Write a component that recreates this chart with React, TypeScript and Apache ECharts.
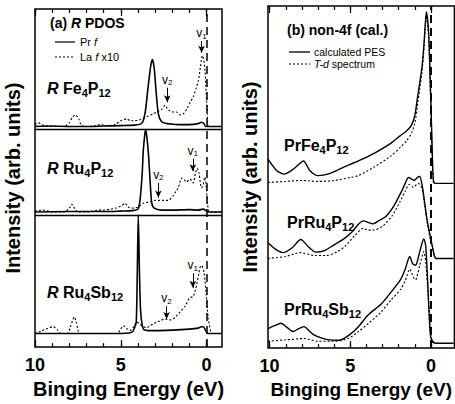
import React, { useEffect, useRef } from "react";
import * as echarts from "echarts";

const FONT = "'Liberation Sans', Arial, Helvetica, sans-serif";

// binding-energy ticks (eV)
const energyTicks = [0, 1, 2, 3, 4, 5, 6, 7, 8, 9, 10];
const energyMajor = [0, 5, 10];

// ---------- (a) R PDOS : [energy (eV), intensity above subplot baseline] ----------
const fePrF: number[][] = [[10, 0], [9, 0.5], [8, 0], [7, 0], [6, 0.5], [5, 1], [4.2, 1.5], [3.85, 2.5], [3.69, 6], [3.55, 18], [3.4, 42], [3.25, 63], [3.16, 69], [3.05, 60], [2.95, 38], [2.81, 13], [2.62, 5], [2.3, 3], [2.0, 2.5], [1.5, 2], [1.0, 2], [0.5, 3], [0.29, 4.5], [0.15, 3], [0.05, 0], [-0.9, 0]];
const feLaF: number[][] = [[10, 2], [9.8, 4], [9.6, 2], [9.4, 1], [9.0, 0], [8.3, 0], [8.0, 4], [7.8, 10], [7.65, 12], [7.45, 8], [7.3, 1], [7.0, 0], [6.5, 1], [6.2, 2], [5.8, 1], [5.34, 2], [5.0, 6], [4.66, 8], [4.45, 6], [4.27, 6], [3.88, 7], [3.5, 10], [3.11, 13], [2.9, 15], [2.6, 18], [2.42, 22], [2.3, 19], [2.13, 16], [1.95, 15], [1.75, 15], [1.55, 12], [1.36, 13], [1.16, 18], [0.95, 25], [0.77, 31], [0.6, 40], [0.48, 47], [0.35, 62], [0.25, 73], [0.18, 70], [0.09, 57], [0.0, 27], [-0.05, 10], [-0.1, 0], [-0.9, 0]];
const ruPrF: number[][] = [[10, 0], [8, 0.5], [6, 0.5], [5, 1], [4.3, 1.5], [4.0, 3], [3.88, 12], [3.75, 40], [3.69, 63], [3.6, 80], [3.55, 85], [3.5, 80], [3.4, 63], [3.3, 35], [3.2, 10], [3.05, 4], [2.6, 2], [2.0, 2], [1.0, 2.5], [0.5, 2], [0.2, 3], [0.0, 1], [-0.1, 0], [-0.9, 0]];
const ruLaF: number[][] = [[10, 1], [9.5, 2], [9.0, 0], [8.3, 0], [8.0, 4], [7.86, 8], [7.7, 4], [7.5, 0], [7.0, 0], [6.6, 1], [6.3, 2], [6.0, 2], [5.6, 3], [5.3, 4], [5.0, 6], [4.75, 9], [4.55, 5], [4.3, 4], [4.0, 5], [3.7, 9], [3.45, 10], [3.2, 11], [3.0, 12], [2.8, 12], [2.5, 12], [2.23, 12], [1.94, 17], [1.8, 21], [1.65, 25], [1.45, 35], [1.3, 33], [1.16, 31], [0.97, 34], [0.78, 30], [0.65, 40], [0.55, 45], [0.44, 40], [0.3, 25], [0.2, 28], [0.1, 36], [0.03, 28], [-0.05, 10], [-0.12, 1], [-0.2, 0], [-0.9, 0]];
const sbPrF: number[][] = [[10, 0], [5, 0], [4.5, 0.5], [4.3, 2], [4.2, 6], [4.1, 11], [4.04, 60], [3.98, 122], [3.92, 70], [3.85, 25], [3.75, 8], [3.65, 4], [3.4, 3], [3.0, 3], [2.0, 3.5], [1.0, 4.5], [0.5, 5.5], [0.3, 7], [0.19, 7], [0.05, 3], [-0.05, 0], [-0.9, 0]];
const sbLaF: number[][] = [[10, 0], [9.8, 1], [9.6, 3], [9.3, 5], [8.95, 7], [8.7, 4], [8.5, 0], [8.1, 0], [7.95, 6], [7.8, 14], [7.71, 17], [7.6, 12], [7.5, 4], [7.4, 0], [5.2, 0], [5.05, 3], [4.85, 8], [4.65, 5], [4.46, 3], [4.25, 7], [4.07, 12], [3.9, 10], [3.78, 8], [3.49, 6], [3.3, 8], [3.1, 10], [2.9, 12], [2.72, 13], [2.42, 15], [2.13, 14], [1.94, 15], [1.75, 18], [1.55, 22], [1.26, 28], [0.97, 37], [0.78, 38], [0.58, 50], [0.45, 62], [0.38, 68], [0.29, 70], [0.15, 63], [0.03, 42], [-0.1, 15], [-0.24, 2], [-0.3, 0], [-0.9, 0]];

// subplot baselines and separators (arb. units)
const pdosBase = { fe: 227, ru: 139, sb: 14 };
const pdosSeparators = [224, 136];

// v1 / v2 arrows: [index, energy, start, end] (above the subplot baseline)
const feArrows: [string, number, number, number][] = [["1", 0.29, 88, 76], ["2", 2.29, 40, 25]];
const ruArrows: [string, number, number, number][] = [["1", 0.8, 55, 42], ["2", 2.81, 30, 15]];
const sbArrows: [string, number, number, number][] = [["1", 0.8, 62, 47], ["2", 2.33, 28, 15]];

// ---------- (b) non-4f (cal.) : [energy (eV), intensity above offset] ----------
const feCalc: number[][] = [[10.1, 25], [9.55, 13], [9.1, 9.5], [8.5, 15], [7.9, 23], [7.5, 13], [7.0, 8], [6.3, 10], [5.5, 16], [4.5, 23], [3.5, 31], [2.5, 41], [1.9, 49], [1.5, 54], [1.2, 60], [1.0, 70], [0.84, 88], [0.7, 103], [0.55, 121], [0.45, 140], [0.37, 160], [0.29, 176], [0.15, 155], [0.05, 105], [-0.03, 60], [-0.1, 18], [-0.15, 3], [-0.25, 0], [-1.4, 0]];
const feTd: number[][] = [[10.1, 1], [9, 2], [8, 3], [7, 2], [6, 3], [5, 6], [4.5, 8], [3.5, 17], [2.5, 28], [1.9, 37], [1.5, 44], [1.2, 52], [1.0, 62], [0.84, 80], [0.7, 97], [0.55, 116], [0.45, 136], [0.37, 156], [0.29, 172], [0.15, 150], [0.05, 100], [-0.03, 55], [-0.1, 15], [-0.15, 0]];
const ruCalc: number[][] = [[10.1, 16], [9.6, 9], [9.15, 6], [8.6, 11], [8.07, 19.5], [7.6, 12], [7.15, 6.5], [6.6, 8], [6.0, 14], [5.4, 20], [4.9, 27], [4.5, 35], [4.2, 38.5], [3.9, 37], [3.6, 35.5], [3.2, 39], [2.8, 43], [2.3, 54], [1.85, 68], [1.6, 77], [1.4, 83], [1.25, 82], [1.05, 80], [0.85, 83], [0.7, 84], [0.55, 75], [0.4, 58], [0.25, 40], [0.1, 27], [0.0, 19], [-0.1, 11], [-0.2, 3], [-0.3, 0], [-1.4, 0]];
const ruTd: number[][] = [[10.1, 0], [9.0, 2], [8.1, 6], [7.2, 3], [6.5, 3], [5.8, 7], [5.3, 13], [4.7, 24], [4.2, 31], [3.9, 29], [3.6, 29], [3.0, 33], [2.4, 44], [1.9, 59], [1.6, 69], [1.35, 76], [1.1, 73], [0.8, 77], [0.55, 72], [0.4, 55], [0.2, 33], [0.05, 20], [-0.07, 13], [-0.2, 3], [-0.3, 0]];
const sbCalc: number[][] = [[10.1, 15], [9.7, 18], [9.3, 20.5], [8.9, 16], [8.55, 12], [8.2, 15], [7.87, 17], [7.5, 12], [7.2, 8], [6.5, 4], [5.7, 3], [5.1, 8], [4.5, 17], [3.9, 29], [3.1, 40], [2.5, 52], [1.9, 65], [1.6, 76], [1.32, 89], [1.15, 82], [0.96, 80], [0.7, 94], [0.45, 107], [0.33, 100], [0.22, 67], [0.12, 32], [0.03, 7], [-0.1, 2], [-0.3, 0], [-1.4, 0]];
const sbTd: number[][] = [[10.1, 2], [9, 3.5], [8.2, 4.5], [7.9, 5], [7, 2], [6, 2], [5.1, 5], [4.5, 12], [3.9, 20], [3.1, 32], [2.5, 44], [1.9, 55], [1.6, 64], [1.32, 76], [1.1, 68], [0.96, 65], [0.7, 80], [0.45, 94], [0.33, 84], [0.22, 60], [0.12, 30], [0.03, 10], [-0.1, 1], [-0.2, 0]];
const nonFOffset = { fe: 169, ru: 92, sb: 5 };

const shift = (pts: number[][], off: number) => pts.map(([e, v]) => [e, v + off]);

const bold = (size: number) => ({ fontSize: size, fontWeight: "bold" as const, fontFamily: FONT, color: "#000" });

function xAxesFor(gridIndex: number, min: number, max: number, nameSize: number) {
  const base = {
    type: "value" as const, gridIndex, min, max, inverse: true,
    splitLine: { show: false }, axisLine: { show: false },
  };
  const tick = (len: number, vals: number[]) => ({ show: true, inside: true, length: len, customValues: vals, lineStyle: { color: "#000", width: 1.2 } });
  return [
    {
      ...base, position: "bottom", axisTick: tick(4, energyTicks),
      axisLabel: { show: true, customValues: energyMajor, margin: 9, ...bold(18), showMinLabel: true, showMaxLabel: true },
      name: "Binging Energy (eV)", nameLocation: "middle", nameGap: 23, nameTextStyle: bold(nameSize),
    },
    { ...base, position: "bottom", axisTick: tick(7, energyMajor), axisLabel: { show: false } },
    { ...base, position: "top", axisTick: tick(4, energyTicks), axisLabel: { show: false } },
    { ...base, position: "top", axisTick: tick(7, energyMajor), axisLabel: { show: false } },
  ];
}

const solid = (w: number) => ({ color: "#000", width: w, type: "solid" as const });
const dotted = { color: "#000", width: 1.1, type: [2, 2] as number[] };

function arrowMark(arrows: [string, number, number, number][], base: number) {
  return {
    silent: true,
    symbol: ["none", "arrow"],
    symbolSize: [5, 7],
    lineStyle: { color: "#000", width: 1, type: "solid" },
    label: {
      show: true, position: "start", distance: 1,
      formatter: (p: any) => `{v|v}{s|${p.name}}`,
      rich: {
        v: { fontSize: 12, fontFamily: FONT, color: "#000", lineHeight: 14 },
        s: { fontSize: 8, fontFamily: FONT, color: "#000", lineHeight: 8, verticalAlign: "bottom" },
      },
    },
    data: arrows.map(([n, e, a, b]) => [
      { name: n, coord: [e, a + base] },
      { coord: [e, b + base] },
    ]),
  };
}

function lineSeries(name: string, data: number[][], xi: number, yi: number, style: any, extra: any = {}) {
  return {
    name, type: "line", data, xAxisIndex: xi, yAxisIndex: yi,
    showSymbol: false, symbol: "none", smooth: 0.25, lineStyle: style,
    animation: false, ...extra,
  };
}

const richLabel = {
  b: { ...bold(16), lineHeight: 20 },
  bi: { ...bold(16), fontStyle: "italic", lineHeight: 20 },
  s: { ...bold(11), lineHeight: 12, verticalAlign: "bottom" },
};

function txt(x: number, y: number, text: string, rich: any, extra: any = {}) {
  return { type: "text", x, y, silent: true, style: { text, rich, verticalAlign: "middle", align: "left", ...extra } };
}

export default function App() {
  const ref = useRef<HTMLDivElement>(null);
  useEffect(() => {
    if (!ref.current) return;
    const chart = echarts.init(ref.current, undefined, { renderer: "svg" });

    const yName = (gridIndex: number, max: number, gap: number) => ({
      type: "value", gridIndex, min: 0, max,
      axisLine: { show: false }, axisTick: { show: false }, axisLabel: { show: false }, splitLine: { show: false },
      name: "Intensity (arb. units)", nameLocation: "middle", nameRotate: 90, nameGap: gap,
      nameTextStyle: bold(20),
    });

    const zeroLine = (w: number, seps: number[]) => ({
      silent: true, symbol: ["none", "none"], label: { show: false },
      lineStyle: { color: "#000", width: 1.3, type: "solid" },
      data: [
        { xAxis: 0, lineStyle: { type: [8, 5], width: w, color: "#000" } },
        ...seps.map((s) => ({ yAxis: s })),
      ],
    });

    const legendText = { fontSize: 11, fontFamily: FONT, fill: "#000" };

    chart.setOption({
      animation: false,
      backgroundColor: "#fff",
      grid: [
        { left: 35, top: 9, width: 187, height: 348, show: true, borderColor: "#000", borderWidth: 1.5, containLabel: false },
        { left: 268, top: 6, width: 194, height: 351, show: true, borderColor: "#000", borderWidth: 1.5, containLabel: false },
      ],
      xAxis: [...xAxesFor(0, -0.9, 10, 20), ...xAxesFor(1, -1.45, 10.1, 19)],
      yAxis: [yName(0, 348, 12), yName(1, 351, 8)],
      series: [
        lineSeries("Pr f (RFe4P12)", shift(fePrF, pdosBase.fe), 0, 0, solid(1.6), { markLine: zeroLine(1.5, pdosSeparators) }),
        lineSeries("La f x10 (RFe4P12)", shift(feLaF, pdosBase.fe), 0, 0, dotted, { markLine: arrowMark(feArrows, pdosBase.fe) }),
        lineSeries("Pr f (RRu4P12)", shift(ruPrF, pdosBase.ru), 0, 0, solid(1.6)),
        lineSeries("La f x10 (RRu4P12)", shift(ruLaF, pdosBase.ru), 0, 0, dotted, { markLine: arrowMark(ruArrows, pdosBase.ru) }),
        lineSeries("Pr f (RRu4Sb12)", shift(sbPrF, pdosBase.sb), 0, 0, solid(1.6)),
        lineSeries("La f x10 (RRu4Sb12)", shift(sbLaF, pdosBase.sb), 0, 0, dotted, { markLine: arrowMark(sbArrows, pdosBase.sb) }),

        lineSeries("calculated PES (PrFe4P12)", shift(feCalc, nonFOffset.fe), 4, 1, solid(1.4), { markLine: zeroLine(2, []) }),
        lineSeries("T-d spectrum (PrFe4P12)", shift(feTd, nonFOffset.fe), 4, 1, dotted),
        lineSeries("calculated PES (PrRu4P12)", shift(ruCalc, nonFOffset.ru), 4, 1, solid(1.4)),
        lineSeries("T-d spectrum (PrRu4P12)", shift(ruTd, nonFOffset.ru), 4, 1, dotted),
        lineSeries("calculated PES (PrRu4Sb12)", shift(sbCalc, nonFOffset.sb), 4, 1, solid(1.4)),
        lineSeries("T-d spectrum (PrRu4Sb12)", shift(sbTd, nonFOffset.sb), 4, 1, dotted),
      ],
      graphic: [
        // panel (a)
        txt(50, 23, "{b|(a) }{bi|R}{b| PDOS}", { b: { ...bold(14) }, bi: { ...bold(14), fontStyle: "italic" } }),
        { type: "line", silent: true, shape: { x1: 55, y1: 42, x2: 75, y2: 42 }, style: { stroke: "#000", lineWidth: 1.2 } },
        txt(80, 42, "{n|Pr }{i|f}", { n: legendText, i: { ...legendText, fontStyle: "italic" } }),
        { type: "line", silent: true, shape: { x1: 55, y1: 57, x2: 75, y2: 57 }, style: { stroke: "#000", lineWidth: 1.1, lineDash: [2, 2] } },
        txt(80, 57, "{n|La }{i|f}{n| x10}", { n: legendText, i: { ...legendText, fontStyle: "italic" } }),
        txt(47, 88, "{bi|R}{b| Fe}{s|4}{b|P}{s|12}", richLabel),
        txt(47, 168, "{bi|R}{b| Ru}{s|4}{b|P}{s|12}", richLabel),
        txt(47, 292, "{bi|R}{b| Ru}{s|4}{b|Sb}{s|12}", richLabel),
        // panel (b)
        txt(287, 30, "{b|(b) non-4f (cal.)}", { b: { ...bold(14) } }),
        { type: "line", silent: true, shape: { x1: 289, y1: 52, x2: 310, y2: 52 }, style: { stroke: "#000", lineWidth: 1.3 } },
        txt(314, 52, "{n|calculated PES}", { n: { ...legendText, fontSize: 10.5 } }),
        { type: "line", silent: true, shape: { x1: 289, y1: 64, x2: 310, y2: 64 }, style: { stroke: "#000", lineWidth: 1.1, lineDash: [2, 2] } },
        txt(314, 64, "{i|T-d}{n| spectrum}", { n: { ...legendText, fontSize: 10.5 }, i: { ...legendText, fontSize: 10.5, fontStyle: "italic" } }),
        txt(284, 145, "{b|PrFe}{s|4}{b|P}{s|12}", richLabel),
        txt(287, 222, "{b|PrRu}{s|4}{b|P}{s|12}", richLabel),
        txt(284, 309, "{b|PrRu}{s|4}{b|Sb}{s|12}", richLabel),
      ],
    });
    return () => chart.dispose();
  }, []);
  return <div ref={ref} style={{ position: "absolute", left: 0, top: 0, width: 455, height: 404, background: "#fff" }} />;
}
